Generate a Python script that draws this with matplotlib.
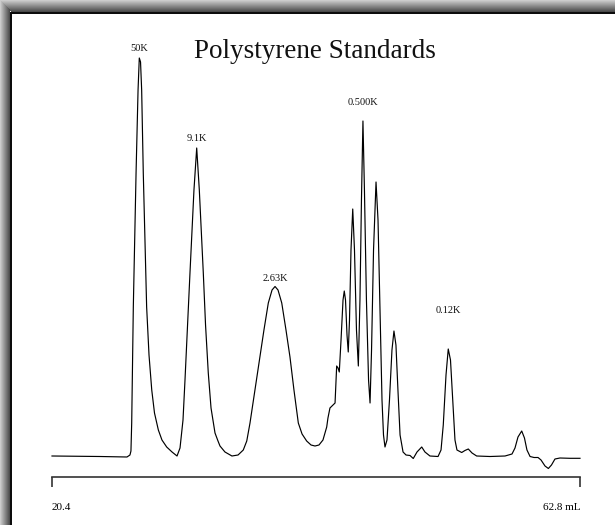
import matplotlib
matplotlib.use("Agg")
import matplotlib.pyplot as plt
import numpy as np

# elution volume (mL) and detector response (arb. units)
volume = [20.40, 24.25, 26.42, 26.66, 26.74, 26.80, 26.93, 27.15, 27.31, 27.41,
          27.51, 27.60, 27.73, 28.00, 28.19, 28.41, 28.63, 28.94, 29.23, 29.61,
          30.04, 30.44, 30.68, 30.92, 31.08, 31.48, 31.80, 32.02, 32.23, 32.55,
          32.73, 32.95, 33.17, 33.49, 33.73, 33.89, 34.29, 34.85, 35.34, 35.76,
          36.04, 36.30, 36.70, 37.10, 37.42, 37.77, 38.07, 38.31, 38.55, 38.85,
          39.19, 39.51, 39.83, 40.18, 40.48, 40.85, 41.20, 41.52, 41.84, 42.16,
          42.46, 42.56, 42.72, 42.96, 43.13, 43.26, 43.37, 43.47, 43.61, 43.77,
          43.87, 43.97, 44.09, 44.19, 44.29, 44.41, 44.55, 44.69, 44.85, 45.00,
          45.13, 45.25, 45.37, 45.49, 45.65, 45.82, 45.94, 46.06, 46.22, 46.42,
          46.58, 46.74, 46.90, 47.02, 47.14, 47.30, 47.50, 47.70, 47.86, 48.02,
          48.18, 48.35, 48.59, 48.83, 49.15, 49.41, 49.71, 50.09, 50.35, 50.75,
          51.40, 51.64, 51.82, 52.04, 52.22, 52.40, 52.56, 52.76, 52.92, 53.30,
          53.56, 53.83, 54.13, 54.50, 55.57, 56.78, 57.34, 57.58, 57.82, 58.12,
          58.34, 58.54, 58.79, 59.11, 59.43, 59.67, 59.99, 60.26, 60.51, 60.79,
          61.19, 61.99, 62.80]
response = [0, -0.5, -1, 1, 5, 33, 149, 283, 366, 398,
            394, 366, 283, 149, 101, 66, 43, 26, 16, 9,
            4, 0, 8, 36, 76, 183, 266, 308, 266, 183,
            131, 83, 48, 23, 15, 10, 4, 0, 1, 6,
            15, 33, 66, 99, 126, 153, 166, 169.5, 166, 153,
            126, 99, 66, 33, 22, 15, 11, 10, 11, 16,
            29, 38, 48, 51, 53, 90, 88, 84, 116, 156,
            165, 156, 121, 104, 136, 206, 247, 206, 126, 90,
            156, 256, 335, 266, 156, 76, 53, 106, 206, 274,
            236, 146, 56, 21, 9, 16, 56, 106, 125, 111,
            66, 21, 4, 1, 0.5, -2.5, 4, 9, 4, 0,
            -0.5, 6, 31, 81, 107, 96, 61, 16, 6, 3.5,
            5.5, 7, 3, 0, -0.5, 0, 2, 8, 19, 25,
            18, 6, -0.5, -1.5, -1.5, -4, -10, -12.5, -9, -3,
            -2, -2.3, -2.3]

peak_labels = ["50K", "9.1K", "2.63K", "0.500K", "0.12K"]
label_volume = [27.39, 32.04, 38.31, 45.37, 52.20]
label_response = [405, 315, 175, 351, 143]

W, H = 615, 525
fig = plt.figure(figsize=(W / 100, H / 100), dpi=100)
fig.patch.set_facecolor("white")

# grey bevelled frame on the top and left edge
bg = np.ones((H, W, 3))
top, left = 12, 10
for i in range(top):
    bg[i, i:, :] = 0.80 - 0.55 * i / top
for j in range(left):
    bg[j:, j, :] = 0.80 - 0.55 * j / left
bg[top:top + 2, left:, :] = 0.05
bg[top:, left:left + 2, :] = 0.05
fig.figimage(bg, 0, 0, origin="upper", zorder=-10)

ax = fig.add_axes([52 / W, (H - 477) / H, 528 / W, 447 / H])
ax.patch.set_alpha(0)
ax.plot(volume, response, color="black", lw=0.85, clip_on=False,
        solid_joinstyle="round")
ax.set_xlim(20.4, 62.8)
ax.set_ylim(-21, 426)

for s in ["top", "right", "left"]:
    ax.spines[s].set_visible(False)
ax.spines["bottom"].set_linewidth(1.2)
ax.spines["bottom"].set_color("#333333")
ax.set_yticks([])
ax.set_xticks([20.4, 62.8], ["20.4", "62.8 mL"])
ax.tick_params(axis="x", direction="out", length=7, width=1.2, color="#333333",
               pad=12, labelsize=8, labelfontfamily="Liberation Serif")
ticklabels = ax.get_xticklabels()
ticklabels[0].set_horizontalalignment("left")
ticklabels[1].set_horizontalalignment("right")

for lab, xv, yv in zip(peak_labels, label_volume, label_response):
    ax.text(xv, yv, lab, ha="center", va="baseline", fontsize=7.5,
            family="Liberation Serif", color="#111111")

fig.text(314.5 / W, 1 - 58 / H, "Polystyrene Standards", ha="center",
         va="baseline", fontsize=19.5, family="Liberation Serif", color="#111111")

fig.savefig("out.png", dpi=100)
